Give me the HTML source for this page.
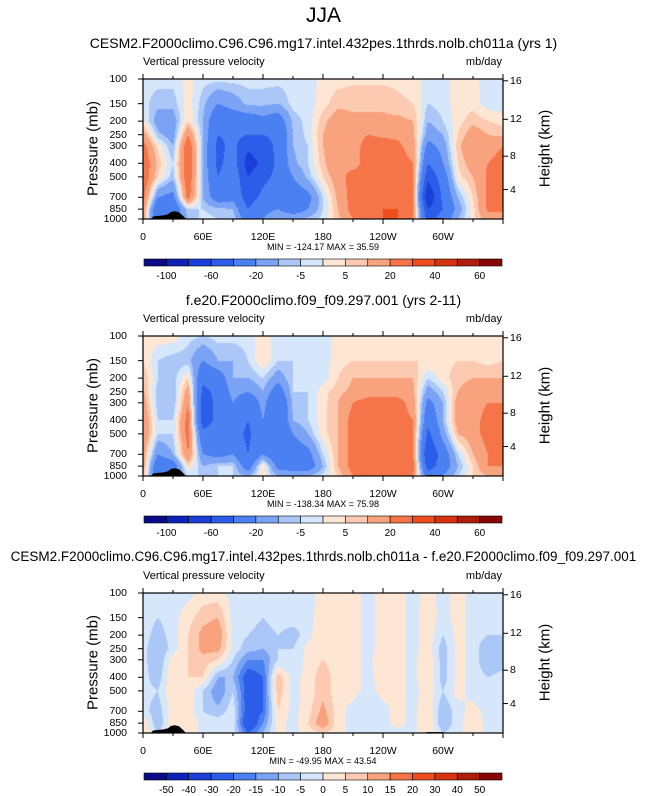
<!DOCTYPE html>
<html><head><meta charset="utf-8">
<style>
body{margin:0;background:#fff;width:647px;height:795px;overflow:hidden;position:relative;font-family:"Liberation Sans",Arial,sans-serif;color:#000}
.t{position:absolute;white-space:nowrap}
canvas{position:absolute}
svg{position:absolute;left:0;top:0}
</style></head><body>
<div class="t" style="left:0;width:647px;text-align:center;top:4px;font-size:21px">JJA</div>
<svg id="svg" width="647" height="795"></svg>
<script>
const lons=[0,15,30,45,60,75,90,105,120,135,150,165,180,195,210,225,240,255,270,285,300,315,330,345,360];
const levels=[100,150,200,250,300,400,500,700,850,1000];
const field1=[
[-3,-3,-3,2,-3,-3,-3,-3,-3,-3,-3,-3,2,3,4,4,4,4,3,-3,-3,3,2,-3,-3],
[-3,-8,-8,3,-8,-20,-15,-8,-8,-10,-3,-3,3,8,8,8,8,6,5,-5,-3,3,3,-3,-3],
[2,-15,-15,5,-10,-35,-30,-30,-25,-30,-8,-3,8,15,12,12,12,12,10,-10,-5,3,8,5,3],
[15,-8,-15,20,-10,-40,-35,-40,-40,-35,-10,-3,10,18,15,20,18,18,12,-15,-10,5,15,10,8],
[25,3,-10,30,-10,-45,-35,-55,-50,-35,-10,-5,10,18,15,25,25,22,15,-25,-15,8,20,15,20],
[30,8,-5,30,-10,-45,-30,-70,-55,-35,-12,-5,8,20,15,25,25,25,20,-40,-20,5,15,20,25],
[30,5,-8,30,-10,-40,-25,-60,-45,-35,-20,-8,5,15,25,25,25,25,20,-55,-30,3,10,22,25],
[25,-20,-25,25,-10,-30,-25,-50,-35,-30,-30,-25,-5,12,25,25,25,25,20,-80,-35,-10,5,22,25],
[20,-40,-35,-5,-5,-8,-10,-40,-25,-20,-30,-20,-5,10,25,25,30,30,20,-60,-40,-15,3,22,22],
[15,-40,-30,-10,-3,-5,-5,-30,-20,-10,-10,-8,-3,8,20,25,30,30,20,-50,-30,-10,3,15,15]];
const field2=[
[3,3,3,-3,-5,-3,-3,-3,3,-3,-3,-3,-3,2,3,3,3,3,3,3,3,3,3,3,3],
[5,-5,-8,-8,-20,-10,-10,-5,5,-5,-5,-5,-3,3,5,5,5,5,5,5,3,5,5,3,5],
[10,-5,-8,5,-35,-30,-10,-10,-5,-15,-5,-5,-3,5,10,10,10,10,10,-5,3,8,10,10,10],
[12,-8,-10,15,-45,-35,-15,-20,-10,-30,-5,-5,3,8,12,15,15,15,12,-15,-5,10,15,15,12],
[15,-8,-10,20,-50,-35,-20,-35,-15,-40,-8,-5,3,10,20,25,25,25,15,-25,-10,15,15,20,20],
[20,-5,-5,25,-50,-35,-25,-40,-20,-40,-10,-5,3,10,25,25,25,25,20,-35,-10,15,15,25,25],
[20,-5,-5,25,-35,-30,-30,-45,-20,-40,-20,-10,3,10,25,25,25,25,20,-45,-15,10,15,25,25],
[15,-20,-10,20,-20,-25,-20,-40,-20,-35,-30,-25,-5,10,25,25,25,25,20,-60,-30,-5,10,20,20],
[15,-35,-30,5,-10,-5,-5,-30,5,-25,-30,-30,-10,10,25,30,30,30,25,-50,-30,-10,5,20,20],
[10,-35,-25,-5,-5,-5,-5,-10,3,-10,-10,-10,-3,5,20,25,25,25,20,-30,-20,-5,5,10,10]];
const field3=[
[-2,-2,-2,-2,2,2,-2,-2,-2,-2,-2,-2,2,2,2,-2,2,2,-2,2,-2,2,-2,-2,-2],
[-2,-5,-2,3,8,10,-2,-2,-5,-2,-2,-2,3,3,2,-2,2,2,-2,3,-2,2,-2,-2,-2],
[-2,-8,-2,5,12,15,-2,-5,-8,-5,-8,-2,5,3,2,-2,2,2,-2,3,-5,2,-2,-5,-5],
[-3,-10,-3,5,12,12,-2,-8,-10,-5,-5,2,5,3,2,-2,2,2,-2,3,-8,2,-2,-10,-8],
[-3,-10,3,5,8,5,-5,-15,-15,-5,-5,2,5,3,2,-2,5,2,-2,5,-8,2,-2,-10,-8],
[-3,-8,5,5,5,-10,-10,-25,-20,8,-2,2,8,2,2,-2,3,2,-2,5,-8,2,-2,-5,-3],
[-3,-5,5,3,-5,-15,-5,-25,-20,8,-2,2,8,2,2,-2,2,2,-2,3,-5,2,-2,-3,-3],
[-3,-8,3,3,-5,-8,-2,-25,-20,5,-2,3,12,2,-2,-5,-2,2,-2,5,-10,-2,2,-2,-2],
[5,-10,5,5,-2,-2,-2,-30,-15,2,-2,5,15,2,-2,-2,-2,2,-2,5,-10,-2,5,-2,-2],
[5,-5,5,3,-2,-2,-2,-20,-10,2,-2,2,5,2,-2,-2,-2,-2,-2,5,-5,-2,3,-2,-2]];
const bounds1=[-100,-80,-60,-40,-20,-10,-5,0,5,10,20,30,40,50,60];
const bounds3=[-50,-40,-30,-20,-15,-10,-5,0,5,10,15,20,30,40,50];
const cbLabels1=["-100","-60","-20","-5","5","20","40","60"];
const cbLabels3=["-50","-40","-30","-20","-15","-10","-5","0","5","10","15","20","30","40","50"];
const pTicks=[100,150,200,250,300,400,500,700,850,1000];
const hTicks=[16,12,8,4];
const hTickP=[103,194,356,616];
const xTicks=[0,60,120,180,240,300];
const xTickLabels=["0","60E","120E","180","120W","60W"];
const topoLon=[8,10,15,20,25,28,32,36,40,43];
const topoP=[1000,960,950,945,925,890,880,895,950,1000];
const colors=["#0b0b8a","#0c23b5","#1a3fd8","#2c5de8","#4b80f2","#7ba3f5","#abc7f8","#d6e7fb","#fee6d4","#fccab0","#f9a27e","#f57548","#ee4d1e","#d5330f","#ae1e0b","#870707"];
const titles=["CESM2.F2000climo.C96.C96.mg17.intel.432pes.1thrds.nolb.ch011a (yrs 1)","f.e20.F2000climo.f09_f09.297.001 (yrs 2-11)","CESM2.F2000climo.C96.C96.mg17.intel.432pes.1thrds.nolb.ch011a - f.e20.F2000climo.f09_f09.297.001"];
const minmax=["MIN = -124.17  MAX =  35.59","MIN = -138.34  MAX =  75.98","MIN = -49.95  MAX =  43.54"];

const X0=143,W=360,H=140;
const panelTops=[79,336,593];
const svg=document.getElementById('svg');
const NS='http://www.w3.org/2000/svg';
function xs(lon){return X0+lon*W/360;}
function ys(p,top){return top+H*Math.log10(p/100);}
function mk(tag,attrs,name,parent){const e=document.createElementNS(NS,tag);for(const k in attrs)e.setAttribute(k,attrs[k]);


(parent||svg).appendChild(e);return e;}
function div(txt,css,name){const d=document.createElement('div');d.className='t';d.textContent=txt;d.style.cssText=css;


document.body.appendChild(d);return d;}
function val(f,lon,lp){
  let i=0;while(i<lons.length-2&&lon>lons[i+1])i++;
  const tx=(lon-lons[i])/(lons[i+1]-lons[i]);
  const llev=levels.map(v=>Math.log10(v));
  let j=0;while(j<levels.length-2&&lp>llev[j+1])j++;
  const ty=Math.min(1,Math.max(0,(lp-llev[j])/(llev[j+1]-llev[j])));
  const a=f[j][i]*(1-tx)+f[j][i+1]*tx,b=f[j+1][i]*(1-tx)+f[j+1][i+1]*tx;
  return a*(1-ty)+b*ty;}
function cidx(v,b){let k=0;while(k<b.length&&v>=b[k])k++;return k;}
function hex(c){return [parseInt(c.substr(1,2),16),parseInt(c.substr(3,2),16),parseInt(c.substr(5,2),16)];}
const rgb=colors.map(hex);
const fields=[field1,field2,field3];
for(let pi=0;pi<3;pi++){
  const top=panelTops[pi],f=fields[pi],b=pi==2?bounds3:bounds1;
  div(titles[pi],`left:0;width:647px;text-align:center;top:${top-44}px;font-size:${pi==2?13.5:14}px`,'panel-title-'+(pi+1));
  div('Vertical pressure velocity',`left:143px;top:${top-23}px;font-size:11px`,'variable-label');
  div('mb/day',`left:440px;width:62px;text-align:right;top:${top-23}px;font-size:11px`,'units-label');
  const cv=document.createElement('canvas');cv.width=W;cv.height=H;cv.style.left=X0+'px';cv.style.top=top+'px';
  
  
  document.body.insertBefore(cv,svg);
  const ctx=cv.getContext('2d');const im=ctx.createImageData(W,H);
  for(let y=0;y<H;y++){const lp=2+(y+0.5)/H;for(let x=0;x<W;x++){const v=val(f,(x+0.5)*360/W,lp);const c=rgb[cidx(v,b)];const o=(y*W+x)*4;im.data[o]=c[0];im.data[o+1]=c[1];im.data[o+2]=c[2];im.data[o+3]=255;}}
  ctx.putImageData(im,0,0);
  const g=mk('g',{},'panel-axes-'+(pi+1));
  let pts=topoLon.map((l,k)=>xs(l)+','+ys(topoP[k],top)).join(' ');
  mk('polygon',{points:pts,fill:'#000'},'topography',g);
  mk('rect',{x:xs(283),y:ys(985,top),width:xs(300)-xs(283),height:ys(1000,top)-ys(985,top),fill:'#000'},'topography-andes',g);
  mk('rect',{x:X0,y:top,width:W,height:H,fill:'none',stroke:'#000','stroke-width':1.2},'plot-frame',g);
  pTicks.forEach(p=>{const y=ys(p,top);mk('line',{x1:X0-5,x2:X0,y1:y,y2:y,stroke:'#000'},'y-tick',g);
    div(String(p),`left:95px;width:32px;text-align:right;top:${y-6}px;font-size:10.5px`,'y-tick-label');});
  hTicks.forEach((h,k)=>{const y=ys(hTickP[k],top);mk('line',{x1:X0+W,x2:X0+W+5,y1:y,y2:y,stroke:'#000'},'height-tick',g);
    div(String(h),`left:510px;top:${y-6}px;font-size:10.5px`,'height-tick-label');});
  for(let l=0;l<=360;l+=30){const x=xs(l);const len=l%60==0?5:3;
    mk('line',{x1:x,x2:x,y1:top+H,y2:top+H+len,stroke:'#000'},'x-tick',g);
    mk('line',{x1:x,x2:x,y1:top,y2:top-len,stroke:'#000'},'x-tick-top',g);}
  xTicks.forEach((l,k)=>div(xTickLabels[k],`left:${xs(l)-25}px;width:50px;text-align:center;top:${top+H+12}px;font-size:10.5px`,'x-tick-label'));
  div(minmax[pi],`left:223px;width:200px;text-align:center;top:${top+H+23}px;font-size:9px`,'min-max-label');
  div('Pressure (mb)',`left:43px;width:100px;text-align:center;top:${top+H/2-9}px;font-size:15px;transform:rotate(-90deg)`,'y-axis-title');
  div('Height (km)',`left:495px;width:100px;text-align:center;top:${top+H/2-9}px;font-size:15px;transform:rotate(-90deg)`,'height-axis-title');
  const cy=top+180,cw=358/16;
  const cb=mk('g',{},'colorbar-'+(pi+1));
  colors.forEach((c,k)=>mk('rect',{x:144+k*cw,y:cy,width:cw,height:7,fill:c,stroke:'#000','stroke-width':0.6},'colorbar-box',cb));
  if(pi<2){cbLabels1.forEach((t,k)=>div(t,`left:${144+(2*k+1)*cw-20}px;width:40px;text-align:center;top:${cy+12}px;font-size:10px`,'colorbar-label'));}
  else{cbLabels3.forEach((t,k)=>div(t,`left:${144+(k+1)*cw-20}px;width:40px;text-align:center;top:${cy+12}px;font-size:10px`,'colorbar-label'));}
}
</script>
</body></html>
